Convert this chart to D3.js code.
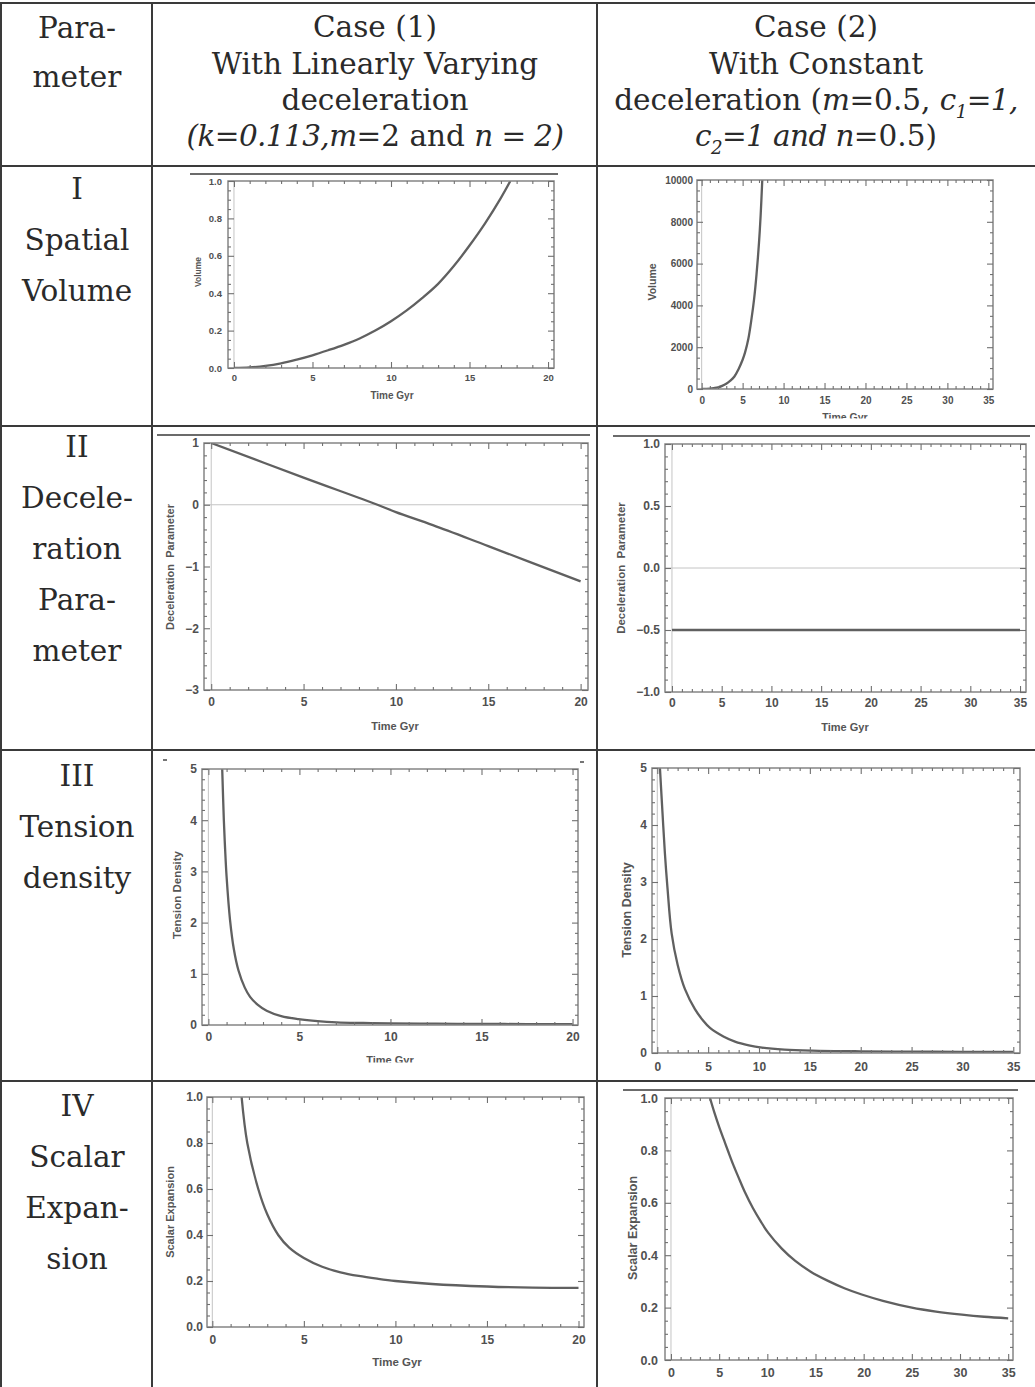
<!DOCTYPE html>
<html lang="en">
<head>
<meta charset="UTF-8">
<script src="https://cdnjs.cloudflare.com/ajax/libs/d3/7.8.5/d3.min.js"></script>
<title>Parameter table</title>
<style>
    body { margin: 0; background: #fff; }
    .cell { font-family: "DejaVu Serif", serif; fill: #2a2a2a; }
    .tick text { font-family: "Liberation Sans", Arial, sans-serif; font-weight: bold; fill: #505050; }
    .axlabel { font-family: "Liberation Sans", Arial, sans-serif; font-weight: bold; fill: #555; }
</style>
</head>
<body>
<div id="container"></div>
<script>
/*------------------------ table text ------------------------*/
const rowLabels = [
    ["I", "Spatial", "Volume"],
    ["II", "Decele-", "ration", "Para-", "meter"],
    ["III", "Tension", "density"],
    ["IV", "Scalar", "Expan-", "sion"]
]
const paramHeader = ["Para-", "meter"]
// each line is a list of [text, style] : r = roman, i = italic, s = italic subscript
const case1Header = [
    [["Case (1)", "r"]],
    [["With Linearly Varying", "r"]],
    [["deceleration", "r"]],
    [["(k=0.113,", "i"], ["m", "i"], ["=2 and ", "r"], ["n = 2)", "i"]]
]
const case2Header = [
    [["Case (2)", "r"]],
    [["With Constant", "r"]],
    [["deceleration (", "r"], ["m", "i"], ["=0.5, ", "r"], ["c", "i"], ["1", "s"], ["=1,", "i"]],
    [["c", "i"], ["2", "s"], ["=1 and n", "i"], ["=0.5)", "r"]]
]

/*------------------------ curve data ------------------------*/
// Case 1, spatial volume
const vol1Time = [0, 1, 2, 3, 4, 5, 6, 7, 8, 9, 10, 11, 12, 13, 14, 15, 16, 17, 17.6]
const vol1Value = [0, 0.003, 0.011, 0.025, 0.045, 0.068, 0.095, 0.124, 0.158, 0.2, 0.25, 0.308, 0.375, 0.45, 0.545, 0.655, 0.775, 0.91, 1.0]
// Case 2, spatial volume
const vol2Time = [0, 1, 1.5, 2, 2.5, 3, 3.5, 4, 4.5, 5, 5.3, 5.7, 6.1, 6.4, 6.7, 7.0, 7.2, 7.4]
const vol2Value = [0, 20, 45, 80, 150, 250, 400, 600, 950, 1400, 1750, 2400, 3400, 4300, 5500, 7000, 8300, 10000]
// Case 1, deceleration parameter
const dec1Time = [0, 5, 9, 10, 12, 15, 20]
const dec1Value = [1, 0.44, 0, -0.12, -0.33, -0.67, -1.24]
// Case 2, deceleration parameter
const dec2Time = [0, 35]
const dec2Value = [-0.5, -0.5]
// Case 1, tension density
const ten1Time = [0.76, 0.85, 0.92, 1.0, 1.19, 1.4, 1.65, 2.0, 2.29, 2.7, 3.2, 4, 4.95, 6, 7.05, 8.5, 10, 12.5, 15, 17.5, 20]
const ten1Value = [5.0, 4.0, 3.43, 2.9, 2.05, 1.48, 1.07, 0.73, 0.55, 0.4, 0.28, 0.175, 0.115, 0.075, 0.052, 0.04, 0.032, 0.025, 0.021, 0.018, 0.016]
// Case 2, tension density
const ten2Time = [0.26, 0.5, 0.75, 1.0, 1.41, 2, 2.72, 3.7, 4.5, 5.18, 6.5, 7.64, 9, 10.3, 12.5, 15.2, 20, 25, 30, 35]
const ten2Value = [5.0, 4.25, 3.5, 2.9, 2.1, 1.55, 1.12, 0.77, 0.57, 0.44, 0.29, 0.2, 0.135, 0.095, 0.06, 0.042, 0.03, 0.024, 0.02, 0.018]
// Case 1, scalar expansion
const exp1Time = [1.6, 1.91, 2.51, 3.0, 3.6, 4.2, 5, 6, 7, 8, 9, 10, 12, 15, 17.5, 20]
const exp1Value = [1.0, 0.8, 0.6, 0.49, 0.4, 0.345, 0.3, 0.262, 0.238, 0.222, 0.21, 0.2, 0.187, 0.176, 0.171, 0.17]
// Case 2, scalar expansion
const exp2Time = [4.05, 4.5, 5, 5.5, 6, 6.5, 7, 7.68, 8.5, 9.3, 10.1, 11.5, 12.9, 14.5, 16.3, 18, 19.8, 22, 25, 27.5, 30.2, 32.5, 35]
const exp2Value = [1.0, 0.945, 0.89, 0.84, 0.79, 0.742, 0.698, 0.64, 0.58, 0.53, 0.485, 0.425, 0.378, 0.337, 0.302, 0.274, 0.25, 0.226, 0.2, 0.185, 0.173, 0.165, 0.159]

/*------------------------ ticks ------------------------*/
const time20Ticks = [0, 5, 10, 15, 20]
const time20Labels = ["0", "5", "10", "15", "20"]
const time35Ticks = [0, 5, 10, 15, 20, 25, 30, 35]
const time35Labels = ["0", "5", "10", "15", "20", "25", "30", "35"]
const unitTicks = [0, 0.2, 0.4, 0.6, 0.8, 1.0]
const unitLabels = ["0.0", "0.2", "0.4", "0.6", "0.8", "1.0"]
const vol2Ticks = [0, 2000, 4000, 6000, 8000, 10000]
const vol2Labels = ["0", "2000", "4000", "6000", "8000", "10000"]
const dec1Ticks = [-3, -2, -1, 0, 1]
const dec1Labels = ["\u22123", "\u22122", "\u22121", "0", "1"]
const dec2Ticks = [-1, -0.5, 0, 0.5, 1]
const dec2Labels = ["\u22121.0", "\u22120.5", "0.0", "0.5", "1.0"]
const tenTicks = [0, 1, 2, 3, 4, 5]
const tenLabels = ["0", "1", "2", "3", "4", "5"]

/*------------------------ layout ------------------------*/
const W = 1035, H = 1387
const colLines = [1, 152, 597]
const rowLines = [3, 166, 426, 750, 1081]

const svg = d3.select("#container").append("svg")
    .attr("width", W)
    .attr("height", H)
    .attr("viewBox", `0 0 ${W} ${H}`)

svg.append("rect").attr("width", W).attr("height", H).attr("fill", "#fff")

/*------------------------ panels ------------------------*/
const panels = [
    { id: "p1", t: vol1Time, v: vol1Value, fr: { l: 228, r: 554, t: 181, b: 368 }, xDom: [-0.38, 20.38], yDom: [0, 1],
      xT: time20Ticks, xL: time20Labels, yT: unitTicks, yL: unitLabels, xMin: 1, yMin: 0.05,
      fs: 9.5, xLabY: 378, yLabR: 222, ylab: "Volume", ylabX: 198, ylabY: 272, ylabFs: 8.5,
      xlab: "Time Gyr", xlabX: 392, xlabY: 399, xlabFs: 10, clipY: null, art: [[190, 558, 174]] },
    { id: "p2", t: vol2Time, v: vol2Value, fr: { l: 697, r: 993, t: 180, b: 389 }, xDom: [-0.57, 35.57], yDom: [0, 10000],
      xT: time35Ticks, xL: time35Labels, yT: vol2Ticks, yL: vol2Labels, xMin: 1, yMin: 500,
      fs: 10, xLabY: 400, yLabR: 693, ylab: "Volume", ylabX: 652, ylabY: 282, ylabFs: 10.5,
      xlab: "Time Gyr", xlabX: 845, xlabY: 421, xlabFs: 10.5, clipY: 418.5, art: [] },
    { id: "p3", t: dec1Time, v: dec1Value, fr: { l: 204, r: 588, t: 443, b: 690 }, xDom: [-0.39, 20.4], yDom: [-3, 1],
      xT: time20Ticks, xL: time20Labels, yT: dec1Ticks, yL: dec1Labels, xMin: 1, yMin: 0.2,
      fs: 12, xLabY: 702, yLabR: 199, ylab: "Deceleration  Parameter", ylabX: 170, ylabY: 567, ylabFs: 11,
      xlab: "Time Gyr", xlabX: 395, xlabY: 730, xlabFs: 11, clipY: null, art: [[157, 590, 435]] },
    { id: "p4", t: dec2Time, v: dec2Value, fr: { l: 665, r: 1026, t: 444, b: 692 }, xDom: [-0.7, 35.6], yDom: [-1, 1],
      xT: time35Ticks, xL: time35Labels, yT: dec2Ticks, yL: dec2Labels, xMin: 1, yMin: 0.1,
      fs: 12, xLabY: 703, yLabR: 660, ylab: "Deceleration  Parameter", ylabX: 621, ylabY: 568, ylabFs: 11.5,
      xlab: "Time Gyr", xlabX: 845, xlabY: 731, xlabFs: 11, clipY: null, art: [[613, 1030, 436]] },
    { id: "p5", t: ten1Time, v: ten1Value, fr: { l: 202, r: 578, t: 769, b: 1025 }, xDom: [-0.35, 20.3], yDom: [0, 5],
      xT: time20Ticks, xL: time20Labels, yT: tenTicks, yL: tenLabels, xMin: 1, yMin: 0.2,
      fs: 12, xLabY: 1037, yLabR: 197, ylab: "Tension Density", ylabX: 177, ylabY: 895, ylabFs: 11.5,
      xlab: "Time Gyr", xlabX: 390, xlabY: 1064, xlabFs: 11, clipY: 1062.5, art: [[163, 167, 760], [580, 584, 762]] },
    { id: "p6", t: ten2Time, v: ten2Value, fr: { l: 652, r: 1020, t: 768, b: 1053 }, xDom: [-0.52, 35.66], yDom: [0, 5],
      xT: time35Ticks, xL: time35Labels, yT: tenTicks, yL: tenLabels, xMin: 1, yMin: 0.2,
      fs: 12, xLabY: 1067, yLabR: 647, ylab: "Tension Density", ylabX: 627, ylabY: 910, ylabFs: 12.5,
      xlab: null, art: [] },
    { id: "p7", t: exp1Time, v: exp1Value, fr: { l: 207, r: 584, t: 1097, b: 1327 }, xDom: [-0.29, 20.3], yDom: [0, 1],
      xT: time20Ticks, xL: time20Labels, yT: unitTicks, yL: unitLabels, xMin: 1, yMin: 0.05,
      fs: 12, xLabY: 1340, yLabR: 203, ylab: "Scalar Expansion", ylabX: 170, ylabY: 1212, ylabFs: 11,
      xlab: "Time Gyr", xlabX: 397, xlabY: 1366, xlabFs: 11.5, clipY: null, art: [] },
    { id: "p8", t: exp2Time, v: exp2Value, fr: { l: 665, r: 1013, t: 1098, b: 1360 }, xDom: [-0.62, 35.5], yDom: [0, 1],
      xT: time35Ticks, xL: time35Labels, yT: unitTicks, yL: unitLabels, xMin: 1, yMin: 0.05,
      fs: 12.5, xLabY: 1372, yLabR: 658, ylab: "Scalar Expansion", ylabX: 633, ylabY: 1228, ylabFs: 12.5,
      xlab: null, art: [[623, 1018, 1090]] }
]

function minorValues(dom, step) {
    const lo = Math.ceil(dom[0] / step - 1e-9), hi = Math.floor(dom[1] / step + 1e-9)
    return d3.range(lo, hi + 1).map(k => +(k * step).toFixed(6))
}

function drawPanel(p) {
    const x = d3.scaleLinear().domain(p.xDom).range([p.fr.l, p.fr.r])
    const y = d3.scaleLinear().domain(p.yDom).range([p.fr.b, p.fr.t])
    const g = svg.append("g").attr("id", p.id)

    // stray edge lines from the pasted figure
    p.art.forEach(a => {
        g.append("line").attr("x1", a[0]).attr("x2", a[1]).attr("y1", a[2]).attr("y2", a[2])
            .attr("stroke", "#3a3a3a").attr("stroke-width", 1.4)
    })

    svg.append("clipPath").attr("id", "clip-" + p.id)
        .append("rect").attr("x", p.fr.l).attr("y", p.fr.t)
        .attr("width", p.fr.r - p.fr.l).attr("height", p.fr.b - p.fr.t)

    // axes through the origin (light)
    g.append("line").attr("x1", x(0)).attr("x2", x(0)).attr("y1", p.fr.t).attr("y2", p.fr.b)
        .attr("stroke", "#c4c4c4").attr("stroke-width", 1)
    if (p.yDom[0] < 0) {
        g.append("line").attr("x1", p.fr.l).attr("x2", p.fr.r).attr("y1", y(0)).attr("y2", y(0))
            .attr("stroke", "#c4c4c4").attr("stroke-width", 1)
    }

    // curve
    g.append("path")
        .datum(d3.zip(p.t, p.v))
        .attr("clip-path", `url(#clip-${p.id})`)
        .attr("fill", "none")
        .attr("stroke", "#606060")
        .attr("stroke-width", 2.3)
        .attr("d", d3.line().curve(d3.curveCatmullRom.alpha(0.5)).x(d => x(d[0])).y(d => y(d[1])))

    // frame
    g.append("rect").attr("x", p.fr.l).attr("y", p.fr.t)
        .attr("width", p.fr.r - p.fr.l).attr("height", p.fr.b - p.fr.t)
        .attr("fill", "none").attr("stroke", "#858585").attr("stroke-width", 1.5)

    const style = sel => {
        sel.select(".domain").remove()
        sel.selectAll(".tick line").attr("stroke", "#707070").attr("stroke-width", 1.1)
        sel.selectAll(".tick text").style("font-size", p.fs + "px")
    }
    const padX = p.xLabY - p.fr.b - 0.35 * p.fs
    const padY = p.fr.l - p.yLabR

    // major ticks with labels
    g.append("g").attr("transform", `translate(0,${p.fr.b})`)
        .call(d3.axisBottom(x).tickValues(p.xT).tickFormat((d, i) => p.xL[i]).tickSizeInner(-6).tickSizeOuter(0).tickPadding(padX))
        .call(style)
    g.append("g").attr("transform", `translate(${p.fr.l},0)`)
        .call(d3.axisLeft(y).tickValues(p.yT).tickFormat((d, i) => p.yL[i]).tickSizeInner(-6).tickSizeOuter(0).tickPadding(padY))
        .call(style)
    g.append("g").attr("transform", `translate(0,${p.fr.t})`)
        .call(d3.axisTop(x).tickValues(p.xT).tickFormat("").tickSizeInner(-6).tickSizeOuter(0))
        .call(style)
    g.append("g").attr("transform", `translate(${p.fr.r},0)`)
        .call(d3.axisRight(y).tickValues(p.yT).tickFormat("").tickSizeInner(-6).tickSizeOuter(0))
        .call(style)

    // minor ticks
    const xm = minorValues(p.xDom, p.xMin).filter(v => !p.xT.includes(v))
    const ym = minorValues(p.yDom, p.yMin).filter(v => !p.yT.some(t => Math.abs(t - v) < 1e-6))
    g.append("g").attr("transform", `translate(0,${p.fr.b})`)
        .call(d3.axisBottom(x).tickValues(xm).tickFormat("").tickSizeInner(-3).tickSizeOuter(0)).call(style)
    g.append("g").attr("transform", `translate(0,${p.fr.t})`)
        .call(d3.axisTop(x).tickValues(xm).tickFormat("").tickSizeInner(-3).tickSizeOuter(0)).call(style)
    g.append("g").attr("transform", `translate(${p.fr.l},0)`)
        .call(d3.axisLeft(y).tickValues(ym).tickFormat("").tickSizeInner(-3).tickSizeOuter(0)).call(style)
    g.append("g").attr("transform", `translate(${p.fr.r},0)`)
        .call(d3.axisRight(y).tickValues(ym).tickFormat("").tickSizeInner(-3).tickSizeOuter(0)).call(style)

    // axis labels
    g.append("text").attr("class", "axlabel")
        .attr("transform", `translate(${p.ylabX},${p.ylabY}) rotate(-90)`)
        .attr("text-anchor", "middle").attr("dominant-baseline", "central")
        .style("font-size", p.ylabFs + "px")
        .style("white-space", "pre")
        .text(p.ylab)
    if (p.xlab) {
        const t = g.append("text").attr("class", "axlabel")
            .attr("x", p.xlabX).attr("y", p.xlabY)
            .attr("text-anchor", "middle")
            .style("font-size", p.xlabFs + "px")
            .text(p.xlab)
        if (p.clipY) {
            svg.append("clipPath").attr("id", "lab-" + p.id)
                .append("rect").attr("x", 0).attr("y", 0).attr("width", W).attr("height", p.clipY)
            t.attr("clip-path", `url(#lab-${p.id})`)
        }
    }
}

panels.forEach(drawPanel)

/*------------------------ table text ------------------------*/
const FS = 29.5
function writeLine(xc, yb, parts) {
    const t = svg.append("text").attr("class", "cell")
        .attr("x", xc).attr("y", yb)
        .attr("text-anchor", "middle")
        .style("font-size", FS + "px")
        .style("white-space", "pre")
    let down = false
    parts.forEach(([txt, st]) => {
        const s = t.append("tspan").text(txt)
        if (st === "i" || st === "s") s.style("font-style", "italic").style("letter-spacing", "-0.6px")
        if (st === "s") {
            s.style("font-size", (FS * 0.62) + "px").attr("dy", 8)
            down = true
        } else if (down) {
            s.attr("dy", -8)
            down = false
        }
    })
}

const headBase = [37, 74, 110, 146]
writeLine(77, 38, [[paramHeader[0], "r"]])
writeLine(77, 87, [[paramHeader[1], "r"]])
case1Header.forEach((ln, i) => writeLine(375, headBase[i], ln))
case2Header.forEach((ln, i) => writeLine(816, headBase[i], ln))

const rowTops = [199, 457, 786, 1116]
rowLabels.forEach((lines, r) => {
    lines.forEach((txt, i) => writeLine(77, rowTops[r] + i * 51, [[txt, "r"]]))
})

/*------------------------ table rules ------------------------*/
colLines.forEach(cx => {
    svg.append("line").attr("x1", cx).attr("x2", cx).attr("y1", rowLines[0]).attr("y2", H)
        .attr("stroke", "#3a3a3a").attr("stroke-width", 2)
})
rowLines.forEach(ry => {
    svg.append("line").attr("x1", 0).attr("x2", W).attr("y1", ry).attr("y2", ry)
        .attr("stroke", "#3a3a3a").attr("stroke-width", 2)
})
</script>
</body>
</html>
